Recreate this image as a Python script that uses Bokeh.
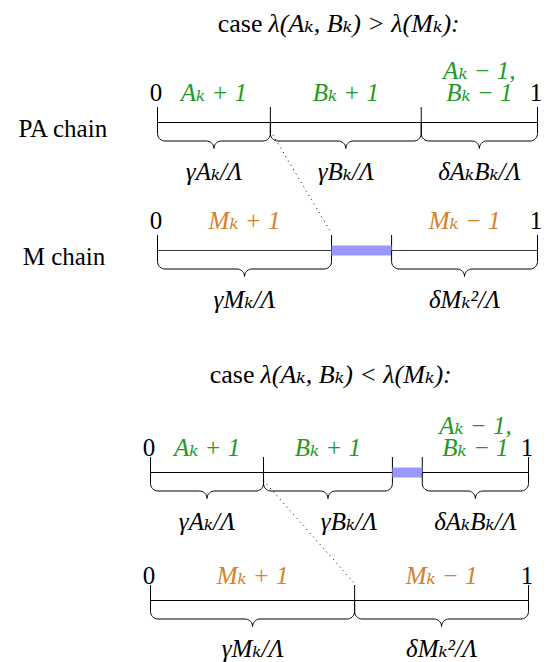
import numpy as np
from bokeh.plotting import figure
from bokeh.models import Range1d
from bokeh.layouts import column
from bokeh.core.properties import value
from bokeh.embed import file_html
from bokeh.resources import INLINE

# ---------------- data ----------------
case_math = ["λ(Aₖ, Bₖ) > λ(Mₖ):", "λ(Aₖ, Bₖ) < λ(Mₖ):"]
case_word = "case"
chain_names = ["PA chain", "M chain"]
end_labels = ["0", "1"]

# fractions of the unit interval (a None label marks the uncovered gap)
pa1_segments = [0.297, 0.397, 0.306]
pa1_labels = ["Aₖ + 1", "Bₖ + 1", "Aₖ − 1,\nBₖ − 1"]
pa1_rates = ["γAₖ/Λ", "γBₖ/Λ", "δAₖBₖ/Λ"]

m1_segments = [0.458, 0.158, 0.384]
m1_labels = ["Mₖ + 1", None, "Mₖ − 1"]
m1_rates = ["γMₖ/Λ", None, "δMₖ²/Λ"]

pa2_segments = [0.299, 0.341, 0.079, 0.281]
pa2_labels = ["Aₖ + 1", "Bₖ + 1", None, "Aₖ − 1,\nBₖ − 1"]
pa2_rates = ["γAₖ/Λ", "γBₖ/Λ", None, "δAₖBₖ/Λ"]

m2_segments = [0.540, 0.460]
m2_labels = ["Mₖ + 1", "Mₖ − 1"]
m2_rates = ["γMₖ/Λ", "δMₖ²/Λ"]

# ---------------- style ----------------
FONT = value("Liberation Serif, DejaVu Serif, serif")
FS = "25px"
FS_TITLE = "26px"
GREEN = "#229a22"
ORANGE = "#d5802a"
BAND = "#9999ff"
PAGE_W = 548


def brace(x1, x2, yl, W, v=11.0, r=7.5, n=10):
    rx = r / W
    xm = (x1 + x2) / 2
    xs, ys = [x1], [yl]
    t = np.linspace(np.pi, np.pi / 2, n)
    xs += list(x1 + rx + rx * np.cos(t)); ys += list(yl + v + r * np.sin(t))
    t = np.linspace(-np.pi / 2, 0, n)
    xs += list(xm - rx + rx * np.cos(t)); ys += list(yl + v + 2 * r + r * np.sin(t))
    t = np.linspace(np.pi, 3 * np.pi / 2, n)
    xs += list(xm + rx + rx * np.cos(t)); ys += list(yl + v + 2 * r + r * np.sin(t))
    t = np.linspace(np.pi / 2, 0, n)
    xs += list(x2 - rx + rx * np.cos(t)); ys += list(yl + v + r * np.sin(t))
    xs += [x2]; ys += [yl]
    return xs, ys


def make_fig(x0, W, ytop, ybot):
    p = figure(width=PAGE_W, height=ybot - ytop,
               x_range=Range1d((0 - x0) / W, (PAGE_W - x0) / W),
               y_range=Range1d(ybot, ytop),
               output_backend="svg", toolbar_location=None, min_border=0,
               x_axis_location=None, y_axis_location=None)
    p.grid.visible = False
    p.outline_line_color = None
    p.background_fill_color = "white"
    p.border_fill_color = "white"
    return p


def draw_chain(p, W, yl, segments, labels, rates, color, lab_dy, rate_dy,
               tick_h=15.5, rate_dx=None, name=None, name_x=None, line_color="black"):
    b = np.concatenate([[0.0], np.cumsum(segments)])
    p.segment(x0=[0.0], y0=[yl], x1=[1.0], y1=[yl], line_color=line_color, line_width=1)
    p.segment(x0=b, y0=[yl - tick_h] * len(b), x1=b, y1=[yl] * len(b),
              line_color="black", line_width=1)
    for i, lab in enumerate(labels):
        if lab is None:
            p.quad(left=[b[i]], right=[b[i + 1]], top=[yl - 5], bottom=[yl + 5],
                   fill_color=BAND, line_color=None)
            continue
        xs, ys = brace(b[i], b[i + 1], yl, W)
        p.line(xs, ys, line_color="black", line_width=1)
        xc = (b[i] + b[i + 1]) / 2
        lines = lab.split("\n")
        for j, ln in enumerate(lines):
            yb = yl + lab_dy - (len(lines) - 1 - j) * 22
            p.text(x=[xc], y=[yb], text=[ln], text_font=FONT, text_font_size=FS,
                   text_font_style="italic", text_color=color,
                   text_align="center", text_baseline="alphabetic")
        dx = 0 if rate_dx is None else rate_dx[i]
        p.text(x=[xc], y=[yl + rate_dy], text=[rates[i]], x_offset=dx, text_font=FONT,
               text_font_size=FS, text_font_style="italic", text_color="black",
               text_align="center", text_baseline="alphabetic")
    p.text(x=[0.0], y=[yl + lab_dy], text=[end_labels[0]], x_offset=-1.5,
           text_font=FONT, text_font_size=FS, text_color="black",
           text_align="center", text_baseline="alphabetic")
    p.text(x=[1.0], y=[yl + lab_dy], text=[end_labels[1]], x_offset=-1.5,
           text_font=FONT, text_font_size=FS, text_color="black",
           text_align="center", text_baseline="alphabetic")
    if name is not None:
        p.text(x=[name_x], y=[yl + 6], text=[name], text_font=FONT, text_font_size=FS,
               text_color="black", text_align="center", text_baseline="alphabetic")
    return b


def draw_title(p, W, x0, y, math, junction_px):
    xj = (junction_px - x0) / W
    p.text(x=[xj], y=[y], text=[case_word], text_font=FONT, text_font_size=FS_TITLE,
           text_color="black", text_align="right", text_baseline="alphabetic")
    p.text(x=[xj], y=[y], text=[math], x_offset=6, text_font=FONT,
           text_font_size=FS_TITLE, text_font_style="italic", text_color="black",
           text_align="left", text_baseline="alphabetic")


# ---------------- panel 1 ----------------
X1, W1 = 157.0, 380.0
p1 = make_fig(X1, W1, 0, 340)
draw_title(p1, W1, X1, 23, case_math[0], 262)
bp = draw_chain(p1, W1, 122, pa1_segments, pa1_labels, pa1_rates, GREEN, -30, 49,
                name=chain_names[0], name_x=(63 - X1) / W1)
bm = draw_chain(p1, W1, 250, m1_segments, m1_labels, m1_rates, ORANGE, -30, 49,
                name=chain_names[1], name_x=(63.5 - X1) / W1, line_color="#3a3a3a")
p1.line([bp[1], bm[1]], [130, 233], line_color="black", line_width=1, line_dash="1 4")

# ---------------- panel 2 ----------------
X2, W2 = 150.0, 378.0
p2 = make_fig(X2, W2, 340, 662)
draw_title(p2, W2, X2, 374, case_math[1], 254)
bp2 = draw_chain(p2, W2, 472, pa2_segments, pa2_labels, pa2_rates, GREEN, -25, 49,
                 rate_dx=[0, 21, 0, 0])
bm2 = draw_chain(p2, W2, 600, m2_segments, m2_labels, m2_rates, ORANGE, -25, 48)
p2.line([bp2[1], bm2[1]], [480, 583], line_color="black", line_width=1, line_dash="1 4")

layout = column(p1, p2, spacing=0)
open("out.html", "w").write(file_html(layout, INLINE))
